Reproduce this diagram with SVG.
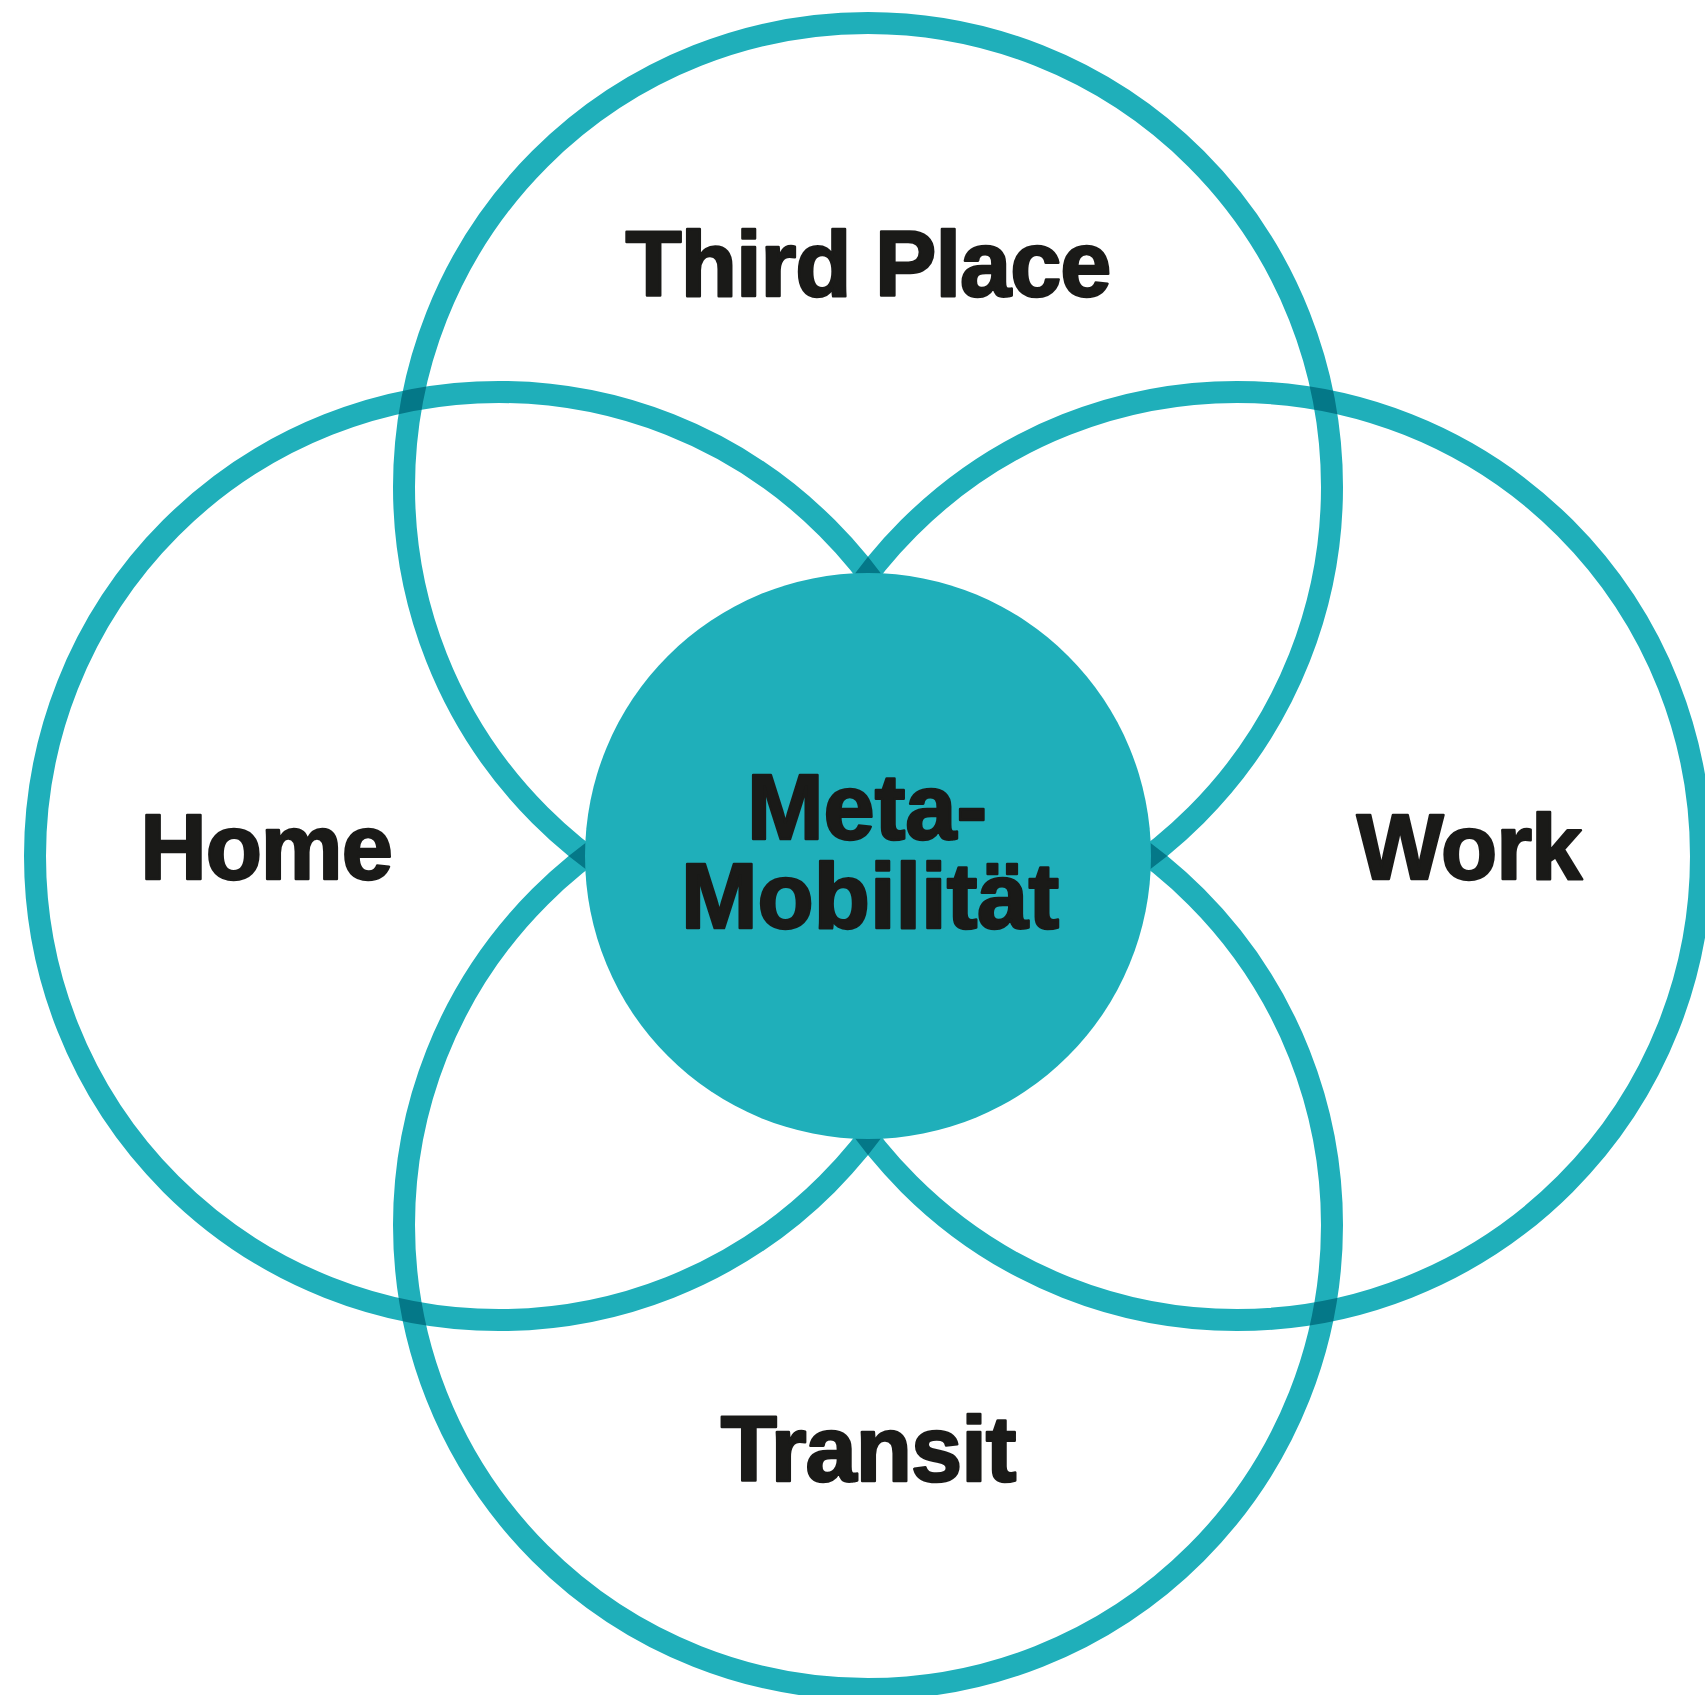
<svg xmlns="http://www.w3.org/2000/svg" width="1705" height="1695" viewBox="0 0 1705 1695">
  <style>
    .ring { fill: none; stroke: #1fafba; stroke-width: 22; mix-blend-mode: multiply; }
    .lbl { font-family: "Liberation Sans", Arial, sans-serif; font-weight: bold; font-size: 92px; fill: #1a1a18; stroke: #1a1a18; stroke-width: 2.5; stroke-linejoin: round; text-anchor: middle; }
    .out { letter-spacing: -1px; }
  </style>
  <rect width="1705" height="1695" fill="#ffffff"/>
  <g id="rings" style="isolation:isolate">
    <rect width="1705" height="1695" fill="#ffffff"/>
    <g id="third-place-ring"><circle class="ring" cx="868" cy="487" r="464"/></g>
    <g id="home-ring"><circle class="ring" cx="499" cy="856" r="464"/></g>
    <g id="work-ring"><circle class="ring" cx="1237" cy="856" r="464"/></g>
    <g id="transit-ring"><circle class="ring" cx="868" cy="1225" r="464"/></g>
  </g>
  <g id="connectors"></g>
  <g id="third-place"><text class="lbl out" x="868" y="296">Third Place</text></g>
  <g id="home"><text class="lbl out" x="266" y="879">Home</text></g>
  <g id="work"><text class="lbl out" x="1469" y="879">Work</text></g>
  <g id="transit"><text class="lbl out" x="868" y="1481">Transit</text></g>
  <g id="meta-mobilitaet">
    <circle cx="868" cy="856" r="283" fill="#1fafba"/>
    <text class="lbl" x="867" y="839">Meta-</text>
    <text class="lbl" x="870" y="928">Mobilität</text>
  </g>
</svg>
